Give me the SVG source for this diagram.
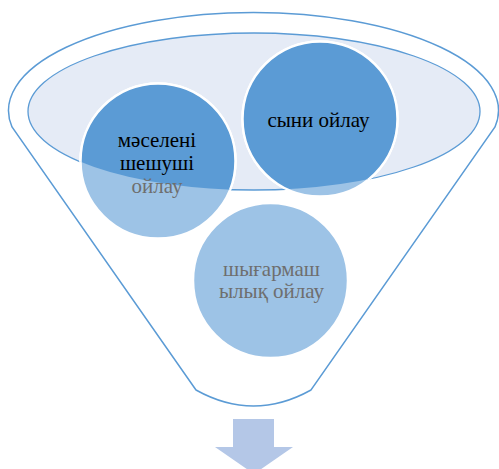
<svg xmlns="http://www.w3.org/2000/svg" width="499" height="469" viewBox="0 0 499 469">
<style>
.outline{fill:none;stroke:#5b9bd5;stroke-width:1.5}
.inner{fill:#e5ebf6;stroke:#5b9bd5;stroke-width:1.3}
.light{fill:#9dc3e6;stroke:#fff;stroke-width:2.5}
.dark{fill:#5b9bd5;stroke:#fff;stroke-width:2.5}
.t{font-size:21px;text-anchor:middle}
.blk{fill:#000}
.gry{fill:#6e6e6e}
</style>
<defs>
<clipPath id="ell"><ellipse cx="254" cy="111.5" rx="226" ry="78.5"/></clipPath>
</defs>
<rect width="499" height="469" fill="#fff"/>
<g id="funnel">
<path class="outline" d="M196,390 L12,127 A245 98 0 1 1 495,127 L311,390 Q253.5,422 196,390 Z"/>
<ellipse class="inner" cx="254" cy="111.5" rx="226" ry="78.5"/>
</g>
<g id="node-problem">
<circle class="light" cx="158" cy="161" r="77.5"/>
<circle class="dark" cx="158" cy="161" r="77.5" clip-path="url(#ell)"/>
<text class="t blk" font-family="Liberation Serif, Times New Roman, DejaVu Serif, serif" x="157" y="147">мәселені</text>
<text class="t blk" font-family="Liberation Serif, Times New Roman, DejaVu Serif, serif" x="157" y="170">шешуші</text>
<text class="t gry" font-family="Liberation Serif, Times New Roman, DejaVu Serif, serif" x="157" y="193">ойлау</text>
</g>
<g id="node-critical">
<circle class="light" cx="320" cy="119" r="77.5"/>
<circle class="dark" cx="320" cy="119" r="77.5" clip-path="url(#ell)"/>
<text class="t blk" font-family="Liberation Serif, Times New Roman, DejaVu Serif, serif" x="318.5" y="127">сыни ойлау</text>
</g>
<g id="node-creative">
<circle class="light" cx="270.5" cy="280.5" r="77.5"/>
<text class="t gry" font-family="Liberation Serif, Times New Roman, DejaVu Serif, serif" x="271.5" y="276">шығармаш</text>
<text class="t gry" font-family="Liberation Serif, Times New Roman, DejaVu Serif, serif" x="271.5" y="298">ылық ойлау</text>
</g>
<g id="arrow">
<path fill="#b4c7e7" d="M233,419 H274 V447 H293 L254,474 L215,447 H233 Z"/>
</g>
</svg>
